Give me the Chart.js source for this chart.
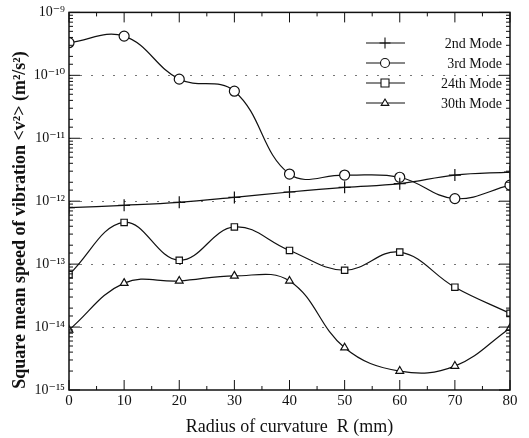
<!DOCTYPE html>
<html>
<head>
<meta charset="utf-8">
<script src="https://cdn.jsdelivr.net/npm/chart.js@4"></script>
<style>
  html, body { margin: 0; padding: 0; background: #fff; }
  #wrap { width: 529px; height: 438px; }
</style>
</head>
<body>
<div id="wrap"><canvas id="vib"></canvas></div>
<script>
var RADIUS = [0, 10, 20, 30, 40, 50, 60, 70, 80];

var MODE_2 = [7.9e-13, 8.6e-13, 9.6e-13, 1.15e-12, 1.4e-12, 1.66e-12, 1.9e-12, 2.6e-12, 2.9e-12];
var MODE_3 = [3.3e-10, 4.2e-10, 8.7e-11, 5.6e-11, 2.7e-12, 2.6e-12, 2.4e-12, 1.1e-12, 1.8e-12];
var MODE_24 = [6.8e-14, 4.6e-13, 1.15e-13, 3.9e-13, 1.65e-13, 8.0e-14, 1.55e-13, 4.3e-14, 1.65e-14];
var MODE_30 = [9.0e-15, 5.0e-14, 5.4e-14, 6.5e-14, 5.4e-14, 4.7e-15, 2.0e-15, 2.4e-15, 9.6e-15];

var LABELS = ["2nd Mode", "3rd Mode", "24th Mode", "30th Mode"];
var STYLES = ["cross", "circle", "rect", "triangle"];
var SIZES = [6, 5, 4.5, 4.5];

var Y_TITLE = "Square mean speed of vibration <v\u00B2> (m\u00B2/s\u00B2)";

var SUP = {"-": "\u207B", "0": "\u2070", "1": "\u00B9", "2": "\u00B2", "3": "\u00B3",
  "4": "\u2074", "5": "\u2075", "6": "\u2076", "7": "\u2077", "8": "\u2078", "9": "\u2079"};

var SERIF = "'Liberation Serif', 'DejaVu Serif', serif";
var INK = "#111";

function points(vals) {
  return RADIUS.map(function (r, i) { return {x: r, y: vals[i]}; });
}

function isDecade(v) {
  var l = Math.log10(v);
  return Math.abs(l - Math.round(l)) < 1e-6;
}

function powLabel(v) {
  var e = String(Math.round(Math.log10(v)));
  return "10" + e.split("").map(function (c) { return SUP[c]; }).join("");
}

function makeSet(i, vals) {
  return {
    label: LABELS[i],
    data: points(vals),
    borderColor: INK,
    borderWidth: 1.2,
    backgroundColor: "#fff",
    pointStyle: STYLES[i],
    pointRadius: SIZES[i],
    pointBorderWidth: 1.2,
    pointBorderColor: INK,
    pointBackgroundColor: "#fff",
    tension: 0.4,
    fill: false
  };
}

function marker(ctx, style, x, y, r) {
  ctx.beginPath();
  if (style === "circle") {
    ctx.arc(x, y, r, 0, Math.PI * 2);
    ctx.fill(); ctx.stroke();
  } else if (style === "rect") {
    ctx.rect(x - r, y - r, 2 * r, 2 * r);
    ctx.fill(); ctx.stroke();
  } else if (style === "triangle") {
    ctx.moveTo(x, y - r);
    ctx.lineTo(x + r * 0.95, y + r * 0.6);
    ctx.lineTo(x - r * 0.95, y + r * 0.6);
    ctx.closePath();
    ctx.fill(); ctx.stroke();
  } else {
    ctx.moveTo(x - r, y); ctx.lineTo(x + r, y);
    ctx.moveTo(x, y - r); ctx.lineTo(x, y + r);
    ctx.stroke();
  }
}

// inward tick marks on all four sides, the frame and the y title
var frameTicks = {
  id: "frameTicks",
  afterDatasetsDraw: function (chart) {
    var ctx = chart.ctx, a = chart.chartArea;
    var xs = chart.scales.x, ys = chart.scales.y;
    ctx.save();
    ctx.strokeStyle = INK;
    ctx.lineWidth = 1;
    ctx.beginPath();
    ys.ticks.forEach(function (t) {
      var py = ys.getPixelForValue(t.value);
      var len = isDecade(t.value) ? 11 : 4;
      ctx.moveTo(a.left, py); ctx.lineTo(a.left + len, py);
      ctx.moveTo(a.right, py); ctx.lineTo(a.right - len, py);
    });
    for (var v = 0; v <= 80; v += 5) {
      var px = xs.getPixelForValue(v);
      var l = v % 10 === 0 ? 10 : 4;
      ctx.moveTo(px, a.bottom); ctx.lineTo(px, a.bottom - l);
      ctx.moveTo(px, a.top); ctx.lineTo(px, a.top + l);
    }
    ctx.stroke();
    ctx.lineWidth = 1.5;
    ctx.strokeRect(a.left, a.top, a.right - a.left, a.bottom - a.top);

    ctx.translate(20, 220);
    ctx.rotate(-Math.PI / 2);
    ctx.font = "bold 18px " + SERIF;
    ctx.fillStyle = INK;
    ctx.textAlign = "center";
    ctx.textBaseline = "middle";
    ctx.fillText(Y_TITLE, 0, 0);
    ctx.restore();
  }
};

// legend drawn inside the plot, upper right
var innerLegend = {
  id: "innerLegend",
  afterDatasetsDraw: function (chart) {
    var ctx = chart.ctx;
    ctx.save();
    ctx.font = "14px " + SERIF;
    ctx.textAlign = "right";
    ctx.textBaseline = "middle";
    chart.data.datasets.forEach(function (ds, i) {
      var y = 43 + i * 20;
      ctx.strokeStyle = INK;
      ctx.fillStyle = "#fff";
      ctx.lineWidth = 1.2;
      ctx.beginPath();
      ctx.moveTo(366, y); ctx.lineTo(405, y);
      ctx.stroke();
      ctx.lineWidth = 1.1;
      marker(ctx, ds.pointStyle, 385, y, ds.pointRadius - 0.5);
      ctx.fillStyle = INK;
      ctx.fillText(ds.label, 502, y + 1);
    });
    ctx.restore();
  }
};

new Chart(document.getElementById("vib"), {
  type: "line",
  data: {
    datasets: [makeSet(0, MODE_2), makeSet(1, MODE_3), makeSet(2, MODE_24), makeSet(3, MODE_30)]
  },
  options: {
    responsive: true,
    maintainAspectRatio: false,
    animation: false,
    layout: { padding: { top: 12, right: 19, left: 0, bottom: 0 } },
    plugins: { legend: { display: false }, tooltip: { enabled: false } },
    scales: {
      x: {
        type: "linear",
        min: 0,
        max: 80,
        afterFit: function (s) { s.height = 48; },
        ticks: { stepSize: 10, color: INK, padding: 2, font: { family: SERIF, size: 15 } },
        grid: { display: false, drawTicks: false },
        border: { display: false },
        title: {
          display: true,
          text: "Radius of curvature  R (mm)",
          color: INK,
          padding: { top: 0, bottom: 0 },
          font: { family: SERIF, size: 18 }
        }
      },
      y: {
        type: "logarithmic",
        min: 1e-15,
        max: 1e-9,
        afterFit: function (s) { s.width = 69; },
        ticks: {
          color: INK,
          padding: 4,
          autoSkip: false,
          font: { family: SERIF, size: 14 },
          callback: function (v) { return isDecade(v) ? powLabel(v) : ""; }
        },
        grid: {
          drawTicks: false,
          lineWidth: 1,
          color: function (c) {
            var v = c.tick && c.tick.value;
            if (!v || !isDecade(v) || v === 1e-15 || v === 1e-9) return "rgba(0,0,0,0)";
            return "rgba(60,60,60,0.7)";
          }
        },
        border: { display: false, dash: [2, 9] },
        title: { display: false }
      }
    }
  },
  plugins: [frameTicks, innerLegend]
});
</script>
</body>
</html>
